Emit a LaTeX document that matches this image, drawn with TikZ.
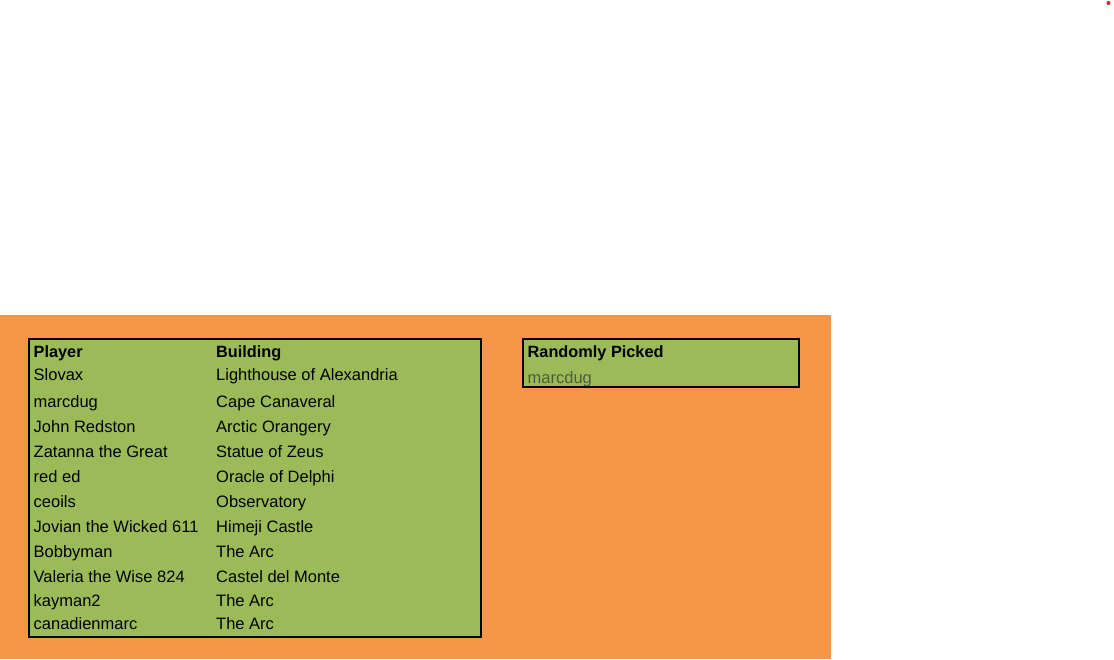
\documentclass[tikz,border=0pt]{standalone}
\usepackage{fontspec}
\setmainfont{Liberation Sans}
\definecolor{bgorange}{HTML}{F79646}
\definecolor{tabgreen}{HTML}{9BBB59}
\definecolor{pickgray}{HTML}{4F5A3A}
\definecolor{dotred}{HTML}{E02020}
\tikzset{
  cell/.style={anchor=base west, inner sep=0pt, font=\fontsize{16.5}{19}\selectfont},
  head/.style={cell, font=\fontsize{16.3}{19}\selectfont\bfseries},
  tablebox/.style={draw=black, line width=2pt, fill=tabgreen},
}
\begin{document}
\begin{tikzpicture}[x=1pt,y=-1pt]
\useasboundingbox (0,0) rectangle (1114,659);
\fill[white] (0,0) rectangle (1114,659);
\fill[bgorange] (0,315) rectangle (831,659);
\fill[dotred] (1108.5,3) circle (2);
\draw[tablebox] (29,338.5) rectangle (481,636.5);
\draw[tablebox] (523,338.5) rectangle (798.5,387);
% headers
\node[head] (hp) at (33.5,357) {Player};
\node[head] (hb) at (216,357) {Building};
\node[head] (hr) at (527.5,357) {Randomly Picked};
\node[cell, text=pickgray] (rv) at (527.5,383) {marcdug};
% rows
\node[cell] (p1) at (33.5,380) {Slovax};
\node[cell] (b1) at (216,380) {Lighthouse of Alexandria};
\node[cell] (p2) at (33.5,407) {marcdug};
\node[cell] (b2) at (216,407) {Cape Canaveral};
\node[cell] (p3) at (33.5,432) {John Redston};
\node[cell] (b3) at (216,432) {Arctic Orangery};
\node[cell] (p4) at (33.5,457) {Zatanna the Great};
\node[cell] (b4) at (216,457) {Statue of Zeus};
\node[cell] (p5) at (33.5,482) {red ed};
\node[cell] (b5) at (216,482) {Oracle of Delphi};
\node[cell] (p6) at (33.5,507) {ceoils};
\node[cell] (b6) at (216,507) {Observatory};
\node[cell] (p7) at (33.5,532) {Jovian the Wicked 611};
\node[cell] (b7) at (216,532) {Himeji Castle};
\node[cell] (p8) at (33.5,557) {Bobbyman};
\node[cell] (b8) at (216,557) {The Arc};
\node[cell] (p9) at (33.5,582) {Valeria the Wise 824};
\node[cell] (b9) at (216,582) {Castel del Monte};
\node[cell] (p10) at (33.5,606) {kayman2};
\node[cell] (b10) at (216,606) {The Arc};
\node[cell] (p11) at (33.5,629) {canadienmarc};
\node[cell] (b11) at (216,629) {The Arc};
\end{tikzpicture}
\end{document}
